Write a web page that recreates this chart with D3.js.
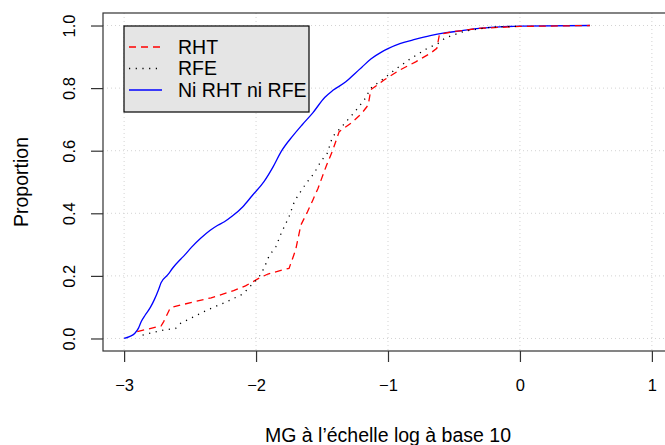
<!DOCTYPE html>
<html>
<head>
<meta charset="utf-8">
<script src="https://cdn.jsdelivr.net/npm/d3@7"></script>
<style>
  body { margin: 0; background: #fff; }
  svg { display: block; font-family: "Liberation Sans", Arial, sans-serif; }
</style>
</head>
<body>
<div id="chart"></div>
<script>
// ECDF points: [log10 MG, proportion]
var rhtData = [[-2.90,0.022],[-2.72,0.040],[-2.70,0.054],[-2.65,0.098],[-2.57,0.107],[-2.46,0.118],[-2.34,0.130],
  [-2.17,0.153],[-2.08,0.168],[-1.98,0.192],[-1.91,0.206],[-1.80,0.219],[-1.75,0.224],[-1.70,0.283],[-1.66,0.363],
  [-1.61,0.405],[-1.57,0.442],[-1.53,0.480],[-1.47,0.549],[-1.42,0.600],[-1.37,0.661],[-1.28,0.688],[-1.20,0.719],
  [-1.15,0.746],[-1.13,0.795],[-1.03,0.826],[-0.91,0.858],[-0.79,0.884],[-0.68,0.911],[-0.63,0.927],[-0.61,0.972],
  [-0.51,0.980],[-0.31,0.991],[0.0,0.997],[0.53,1.0]];
var rfeData = [[-2.86,0.011],[-2.70,0.027],[-2.61,0.032],[-2.57,0.049],[-2.47,0.070],[-2.37,0.091],[-2.22,0.118],
  [-2.10,0.142],[-1.98,0.195],[-1.94,0.224],[-1.90,0.265],[-1.85,0.293],[-1.81,0.336],[-1.75,0.389],[-1.71,0.437],
  [-1.68,0.458],[-1.62,0.496],[-1.56,0.528],[-1.51,0.565],[-1.46,0.592],[-1.42,0.645],[-1.35,0.677],[-1.25,0.725],
  [-1.18,0.762],[-1.13,0.800],[-1.04,0.828],[-0.95,0.858],[-0.84,0.891],[-0.71,0.925],[-0.62,0.943],[-0.57,0.959],
  [-0.51,0.969],[-0.41,0.983],[-0.21,0.995],[0.0,0.998]];
var autreData = [[-3.0,0.0],[-2.96,0.006],[-2.92,0.016],[-2.89,0.034],[-2.87,0.054],[-2.84,0.075],[-2.80,0.100],
  [-2.77,0.125],[-2.74,0.155],[-2.72,0.178],[-2.67,0.203],[-2.63,0.226],[-2.57,0.254],[-2.54,0.267],[-2.49,0.291],
  [-2.42,0.320],[-2.35,0.345],[-2.29,0.362],[-2.24,0.373],[-2.18,0.391],[-2.10,0.421],[-2.03,0.456],[-1.94,0.501],
  [-1.87,0.549],[-1.81,0.597],[-1.72,0.648],[-1.65,0.683],[-1.57,0.721],[-1.48,0.770],[-1.42,0.792],[-1.32,0.820],
  [-1.25,0.847],[-1.20,0.866],[-1.13,0.893],[-1.05,0.915],[-1.0,0.926],[-0.91,0.942],[-0.81,0.954],[-0.68,0.968],
  [-0.56,0.977],[-0.45,0.983],[-0.31,0.991],[-0.18,0.995],[0.0,0.998],[0.53,1.0]];

var xTicks = [-3, -2, -1, 0, 1];
var yTicks = [0, 0.2, 0.4, 0.6, 0.8, 1.0];
var legendLabels = ["RHT", "RFE", "Ni RHT ni RFE"];

var width = 665, height = 445;
var box = {left: 103, top: 13, right: 673, bottom: 351};

var x = d3.scaleLinear().domain([-3.16, 1.16]).range([box.left, box.right]);
var y = d3.scaleLinear().domain([-0.04, 1.04]).range([box.bottom, box.top]);

var svg = d3.select("#chart").append("svg")
  .attr("width", width)
  .attr("height", height);

// grid (dotted light gray)
svg.append("g").selectAll("line.gx")
  .data(xTicks).enter().append("line")
  .attr("x1", function(d) { return x(d); }).attr("x2", function(d) { return x(d); })
  .attr("y1", box.top).attr("y2", box.bottom)
  .attr("stroke", "#d3d3d3").attr("stroke-dasharray", "1,3");
svg.append("g").selectAll("line.gy")
  .data(yTicks).enter().append("line")
  .attr("x1", box.left).attr("x2", box.right)
  .attr("y1", function(d) { return y(d); }).attr("y2", function(d) { return y(d); })
  .attr("stroke", "#d3d3d3").attr("stroke-dasharray", "1,3");

// curves
var line = d3.line()
  .x(function(d) { return x(d[0]); })
  .y(function(d) { return y(d[1]); });
var smoothLine = d3.line()
  .curve(d3.curveMonotoneX)
  .x(function(d) { return x(d[0]); })
  .y(function(d) { return y(d[1]); });

var series = [
  {data: autreData, color: "#0000ff", dash: null, gen: smoothLine},
  {data: rhtData, color: "#ff0000", dash: "7,5", gen: line},
  {data: rfeData, color: "#000000", dash: "1.2,5.5", gen: line}
];
series.forEach(function(s) {
  svg.append("path")
    .datum(s.data)
    .attr("d", s.gen)
    .attr("fill", "none")
    .attr("stroke", s.color)
    .attr("stroke-width", 1.3)
    .attr("stroke-dasharray", s.dash);
});

// box
svg.append("rect")
  .attr("x", box.left).attr("y", box.top)
  .attr("width", box.right - box.left).attr("height", box.bottom - box.top)
  .attr("fill", "none").attr("stroke", "#333").attr("stroke-width", 1.2);

// axes
var xAxis = svg.append("g")
  .attr("transform", "translate(0," + box.bottom + ")")
  .call(d3.axisBottom(x).tickValues(xTicks).tickSize(11).tickPadding(17)
    .tickFormat(function(d) { return d < 0 ? "\u2212" + Math.abs(d) : d; }));
xAxis.select(".domain").remove();
xAxis.selectAll("line").attr("stroke", "#333").attr("stroke-width", 1.2);
xAxis.selectAll("text").attr("font-size", "16.5px").attr("font-family", "Liberation Sans, Arial, sans-serif").attr("fill", "#000");

var yAxis = svg.append("g")
  .attr("transform", "translate(" + box.left + ",0)")
  .call(d3.axisLeft(y).tickValues(yTicks).tickSize(12).tickFormat(d3.format(".1f")));
yAxis.select(".domain").remove();
yAxis.selectAll("line").attr("stroke", "#333").attr("stroke-width", 1.2);
yAxis.selectAll("text")
  .attr("font-size", "16.5px").attr("font-family", "Liberation Sans, Arial, sans-serif").attr("fill", "#000")
  .attr("transform", "rotate(-90)")
  .attr("x", 0).attr("y", -28).attr("dy", 0)
  .attr("text-anchor", "middle");

// axis titles
svg.append("text")
  .attr("x", (box.left + box.right) / 2)
  .attr("y", 442)
  .attr("text-anchor", "middle")
  .style("font-size", "19.5px")
  .text("MG à l\u2019échelle log à base 10");

svg.append("text")
  .attr("transform", "translate(28," + ((box.top + box.bottom) / 2) + ")rotate(-90)")
  .attr("text-anchor", "middle")
  .style("font-size", "19.5px")
  .text("Proportion");

// legend
var legend = svg.append("g");
legend.append("rect")
  .attr("x", 124).attr("y", 26).attr("width", 185).attr("height", 86)
  .attr("fill", "#e5e5e5").attr("stroke", "#000").attr("stroke-width", 1.2);

var legendColors = ["#ff0000", "#000000", "#0000ff"];
var legendDash = ["7,5", "1.2,5.5", null];
var rows = legend.selectAll("g.row")
  .data(legendLabels).enter().append("g")
  .attr("class", "row")
  .attr("transform", function(d, i) { return "translate(0," + (47 + i * 21.5) + ")"; });
rows.append("line")
  .attr("x1", 129).attr("x2", 162).attr("y1", 0).attr("y2", 0)
  .attr("stroke", function(d, i) { return legendColors[i]; })
  .attr("stroke-width", 1.3)
  .attr("stroke-dasharray", function(d, i) { return legendDash[i]; });
rows.append("text")
  .attr("x", 178).attr("dy", "0.35em")
  .style("font-size", "19.5px")
  .text(function(d) { return d; });
</script>
</body>
</html>
